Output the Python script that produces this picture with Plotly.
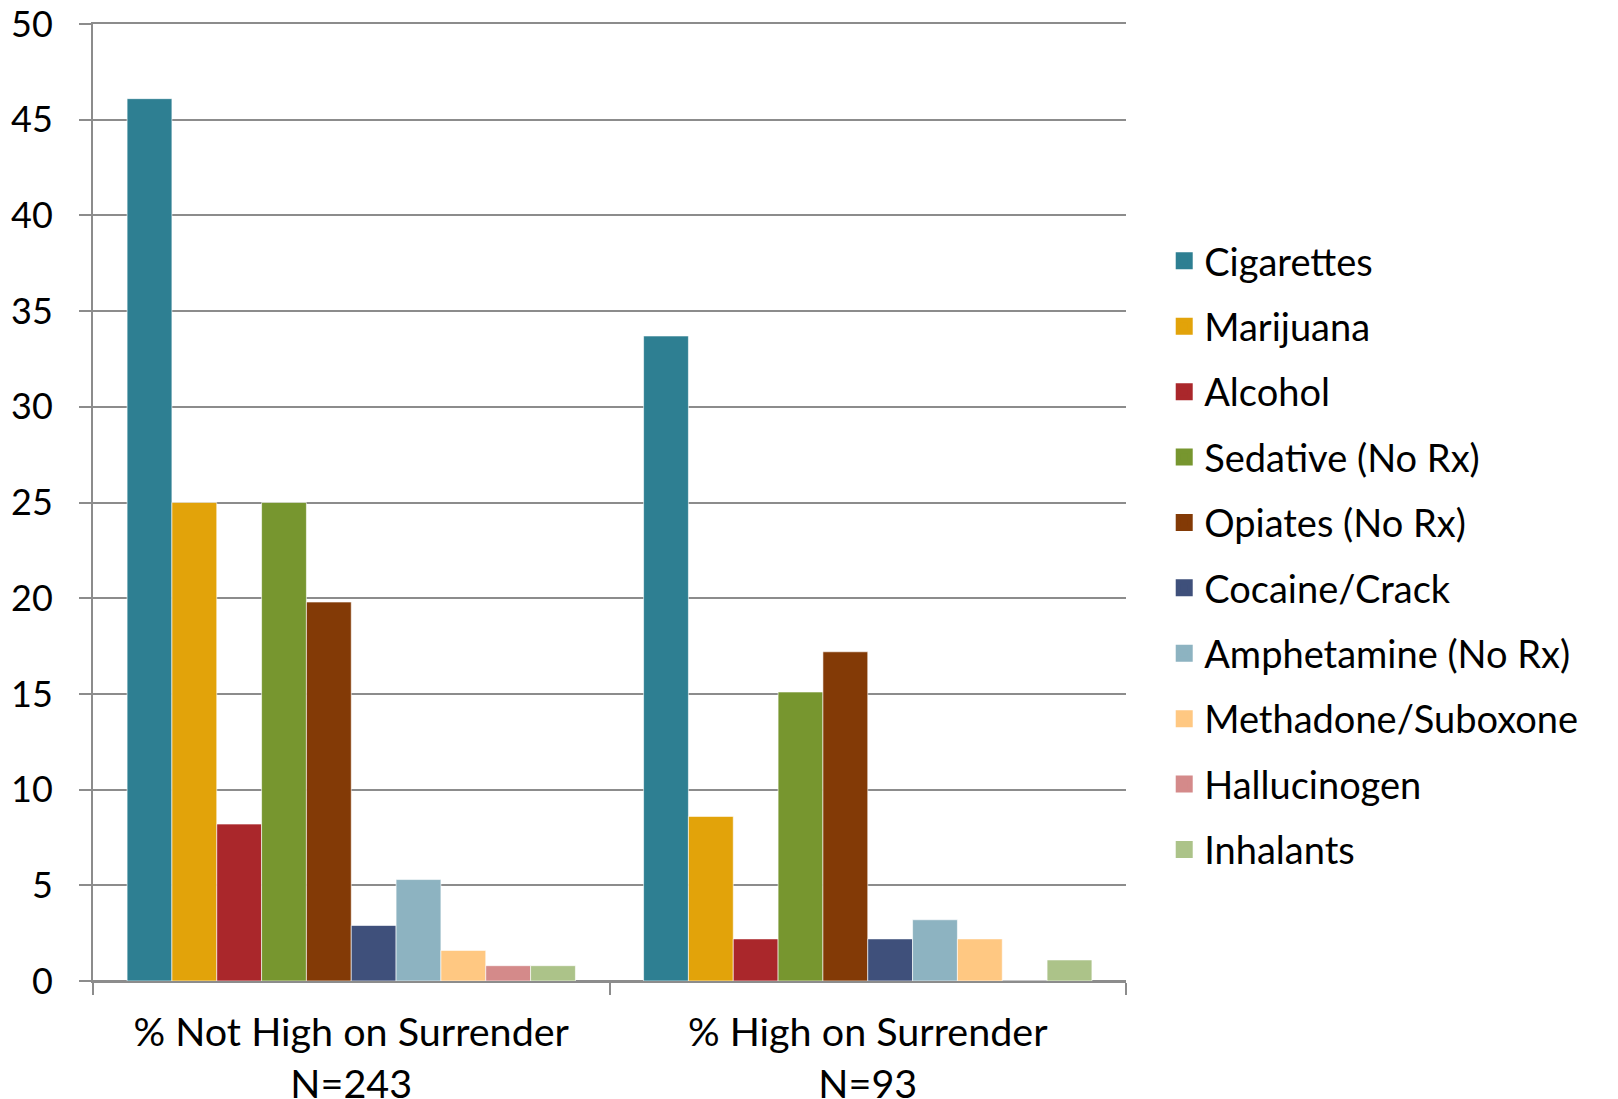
import plotly.graph_objects as go

groups = ["% Not High on Surrender<br>N=243", "% High on Surrender<br>N=93"]
substances = ["Cigarettes", "Marijuana", "Alcohol", "Sedative (No Rx)", "Opiates (No Rx)",
              "Cocaine/Crack", "Amphetamine (No Rx)", "Methadone/Suboxone", "Hallucinogen", "Inhalants"]
not_high = [46.1, 25.0, 8.2, 25.0, 19.8, 2.9, 5.3, 1.6, 0.8, 0.8]
high = [33.7, 8.6, 2.2, 15.1, 17.2, 2.2, 3.2, 2.2, 0.0, 1.1]
colors = ["#2E7F92", "#E2A30A", "#AA272B", "#77962F", "#833A06",
          "#3F507B", "#8DB3C1", "#FFC882", "#D48A8A", "#ACC389"]

FONT = "Lato"
GRID = "#8C8C8C"

fig = go.Figure()
for i, name in enumerate(substances):
    fig.add_trace(go.Bar(
        x=groups, y=[not_high[i], high[i]], name=name,
        marker=dict(color=colors[i], line=dict(color="rgba(255,255,255,0.6)", width=1)),
        showlegend=False,
    ))
# legend entries (no data, drawn on hidden axes)
for i, name in enumerate(substances):
    fig.add_trace(go.Bar(
        x=[None], y=[None], name=name, xaxis="x2", yaxis="y2",
        marker=dict(color=colors[i], line=dict(color=colors[i], width=5)),
        legendgroup=name, showlegend=True,
    ))

fig.update_layout(
    width=1618, height=1099,
    margin=dict(l=85, r=500, t=16, b=126, autoexpand=False),
    paper_bgcolor="white", plot_bgcolor="white",
    barmode="group", bargap=0.132, bargroupgap=0,
    font=dict(family=FONT, size=36, color="black"),
    legend=dict(x=1.037, xanchor="left", y=0.445, yanchor="middle",
                font=dict(family=FONT, size=38, color="black"),
                tracegroupgap=13, bgcolor="rgba(0,0,0,0)"),
    xaxis=dict(showgrid=False, showline=True, mirror=True, linecolor=GRID, linewidth=2,
               ticks="outside", tickson="boundaries",
               ticklen=12, tickwidth=2, tickcolor=GRID, automargin=False,
               ticklabelstandoff=16,
               tickfont=dict(family=FONT, size=39.5, color="black")),
    yaxis=dict(range=[0, 50], dtick=5, tick0=0, showgrid=True, gridcolor=GRID, gridwidth=2,
               zeroline=True, zerolinecolor=GRID, zerolinewidth=2,
               showline=True, linecolor=GRID, linewidth=2, automargin=False,
               ticks="outside", ticklen=12, tickwidth=2, tickcolor=GRID,
               ticklabelstandoff=19, ticklabeloverflow="allow",
               tickfont=dict(family=FONT, size=36, color="black")),
    xaxis2=dict(overlaying="x", visible=False),
    yaxis2=dict(overlaying="y", visible=False),
)

fig.write_html("out.html")
